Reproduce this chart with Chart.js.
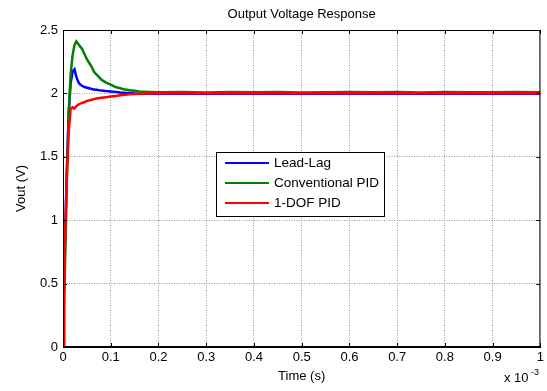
<!DOCTYPE html>
<html>
<head>
<meta charset="utf-8">
<script src="https://cdn.jsdelivr.net/npm/chart.js@4"></script>
<style>
  html, body { margin: 0; padding: 0; background: #fff; }
  #wrap { width: 547px; height: 391px; }
</style>
</head>
<body>
<div id="wrap"><canvas id="myChart" width="547" height="391"></canvas></div>
<script>
// time in units of 1e-3 s
const time = [0, 0.002, 0.004, 0.008, 0.012, 0.016, 0.02, 0.024, 0.028, 0.032, 0.036, 0.04, 0.045, 0.05, 0.055, 0.06, 0.065, 0.07, 0.08, 0.09, 0.1, 0.11, 0.12, 0.13, 0.14, 0.15, 0.16, 0.18, 0.2, 0.25, 0.3, 0.35, 0.4, 0.45, 0.5, 0.55, 0.6, 0.65, 0.7, 0.75, 0.8, 0.85, 0.9, 0.95, 1.0];
const leadLag = [0, 0.4, 0.8, 1.4, 1.85, 2.08, 2.17, 2.19, 2.13, 2.09, 2.07, 2.06, 2.05, 2.045, 2.04, 2.035, 2.03, 2.028, 2.022, 2.018, 2.015, 2.012, 2.008, 2.005, 2.003, 2.0, 1.998, 1.997, 1.997, 1.997, 1.997, 1.997, 1.997, 1.997, 1.997, 1.997, 1.997, 1.997, 1.997, 1.997, 1.997, 1.997, 1.997, 1.997, 1.997];
const convPid = [0, 0.3, 0.6, 1.3, 1.85, 2.15, 2.3, 2.38, 2.41, 2.39, 2.37, 2.35, 2.31, 2.27, 2.24, 2.21, 2.17, 2.15, 2.11, 2.085, 2.07, 2.05, 2.04, 2.03, 2.025, 2.02, 2.015, 2.012, 2.01, 2.012, 2.008, 2.011, 2.009, 2.012, 2.008, 2.01, 2.012, 2.009, 2.011, 2.008, 2.012, 2.01, 2.009, 2.011, 2.01];
const dofPid = [0, 0.45, 0.8, 1.35, 1.7, 1.88, 1.89, 1.88, 1.9, 1.91, 1.92, 1.925, 1.93, 1.94, 1.945, 1.95, 1.955, 1.96, 1.965, 1.97, 1.975, 1.98, 1.985, 1.99, 1.993, 1.996, 1.998, 2.0, 2.002, 2.002, 2.002, 2.002, 2.002, 2.002, 2.002, 2.002, 2.002, 2.002, 2.002, 2.002, 2.002, 2.002, 2.002, 2.002, 2.002];
const labels = ["Lead-Lag", "Conventional PID", "1-DOF PID"];
const colors = ["#0000ff", "#008000", "#ff0000"];
const titleText = "Output Voltage Response";

const FONT = "Arial, 'Liberation Sans', sans-serif";

function pts(ys) {
  return time.map((t, i) => ({ x: t, y: ys[i] }));
}

// title, box, inward ticks, legend and exponent label
const matlabBox = {
  id: "matlabBox",
  afterDraw(chart) {
    const ctx = chart.ctx;
    const a = chart.chartArea;
    const xs = chart.scales.x, ys = chart.scales.y;
    ctx.save();

    ctx.fillStyle = "#000";
    ctx.font = "13px " + FONT;
    ctx.textAlign = "center";
    ctx.textBaseline = "middle";
    ctx.fillText(titleText, (a.left + a.right) / 2, 14);
    ctx.textAlign = "left";

    ctx.strokeStyle = "#000";
    ctx.lineWidth = 1;
    ctx.strokeRect(a.left + 0.5, a.top + 0.5, a.right - a.left - 1, a.bottom - a.top - 1);
    ctx.beginPath();
    xs.ticks.forEach(t => {
      const px = Math.round(xs.getPixelForValue(t.value)) + 0.5;
      ctx.moveTo(px, a.bottom); ctx.lineTo(px, a.bottom - 4);
      ctx.moveTo(px, a.top); ctx.lineTo(px, a.top + 4);
    });
    ys.ticks.forEach(t => {
      const py = Math.round(ys.getPixelForValue(t.value)) + 0.5;
      ctx.moveTo(a.left, py); ctx.lineTo(a.left + 4, py);
      ctx.moveTo(a.right, py); ctx.lineTo(a.right - 4, py);
    });
    ctx.stroke();

    // legend
    const lx = 216, ly = 152, lw = 168, lh = 64;
    ctx.fillStyle = "#fff";
    ctx.fillRect(lx, ly, lw, lh);
    ctx.strokeRect(lx + 0.5, ly + 0.5, lw, lh);
    ctx.font = "13.5px " + FONT;
    ctx.textBaseline = "middle";
    const rows = [163, 183, 203];
    chart.data.datasets.forEach((ds, i) => {
      ctx.strokeStyle = ds.borderColor;
      ctx.lineWidth = 2;
      ctx.beginPath();
      ctx.moveTo(225, rows[i]); ctx.lineTo(269, rows[i]);
      ctx.stroke();
      ctx.fillStyle = "#000";
      ctx.fillText(ds.label, 274, rows[i] + 0.5);
    });

    // exponent
    ctx.fillStyle = "#000";
    ctx.font = "13px " + FONT;
    ctx.textBaseline = "alphabetic";
    ctx.fillText("x 10", 504, 382);
    ctx.font = "9px " + FONT;
    ctx.fillText("-3", 531, 375);
    ctx.restore();
  }
};

const data = {
  datasets: [
    { label: labels[0], data: pts(leadLag), borderColor: colors[0], order: 2 },
    { label: labels[1], data: pts(convPid), borderColor: colors[1], order: 1 },
    { label: labels[2], data: pts(dofPid), borderColor: colors[2], order: 0 },
  ],
};

const config = {
  type: "line",
  data: data,
  options: {
    responsive: false,
    animation: false,
    layout: { padding: { left: 0, right: 6, top: 30, bottom: 0 } },
    elements: {
      line: { borderWidth: 2.5, tension: 0 },
      point: { radius: 0 },
    },
    plugins: {
      legend: { display: false },
      tooltip: { enabled: false },
      title: { display: false },
    },
    scales: {
      x: {
        type: "linear",
        min: 0,
        max: 1,
        afterFit: s => { s.height = 44; },
        ticks: {
          stepSize: 0.1,
          color: "#000",
          padding: 3,
          font: { family: FONT, size: 13 },
          callback: v => String(Math.round(v * 10) / 10),
        },
        grid: { color: "#9a9a9a", drawTicks: false, lineWidth: 1 },
        border: { color: "#000", dash: [1, 1.5] },
        title: {
          display: true,
          text: "Time (s)",
          color: "#000",
          font: { family: FONT, size: 13 },
          padding: { top: 0, bottom: 7 },
        },
      },
      y: {
        min: 0,
        max: 2.5,
        afterFit: s => { s.width = 63; },
        ticks: {
          stepSize: 0.5,
          color: "#000",
          padding: 5,
          font: { family: FONT, size: 13 },
          callback: v => String(Math.round(v * 10) / 10),
        },
        grid: { color: "#9a9a9a", drawTicks: false, lineWidth: 1 },
        border: { color: "#000", dash: [1, 1.5] },
        title: {
          display: true,
          text: "Vout (V)",
          color: "#000",
          font: { family: FONT, size: 13 },
          padding: { top: 14, bottom: 0 },
        },
      },
    },
  },
  plugins: [matlabBox],
};
const myChart = new Chart(document.getElementById("myChart"), config);
</script>
</body>
</html>
